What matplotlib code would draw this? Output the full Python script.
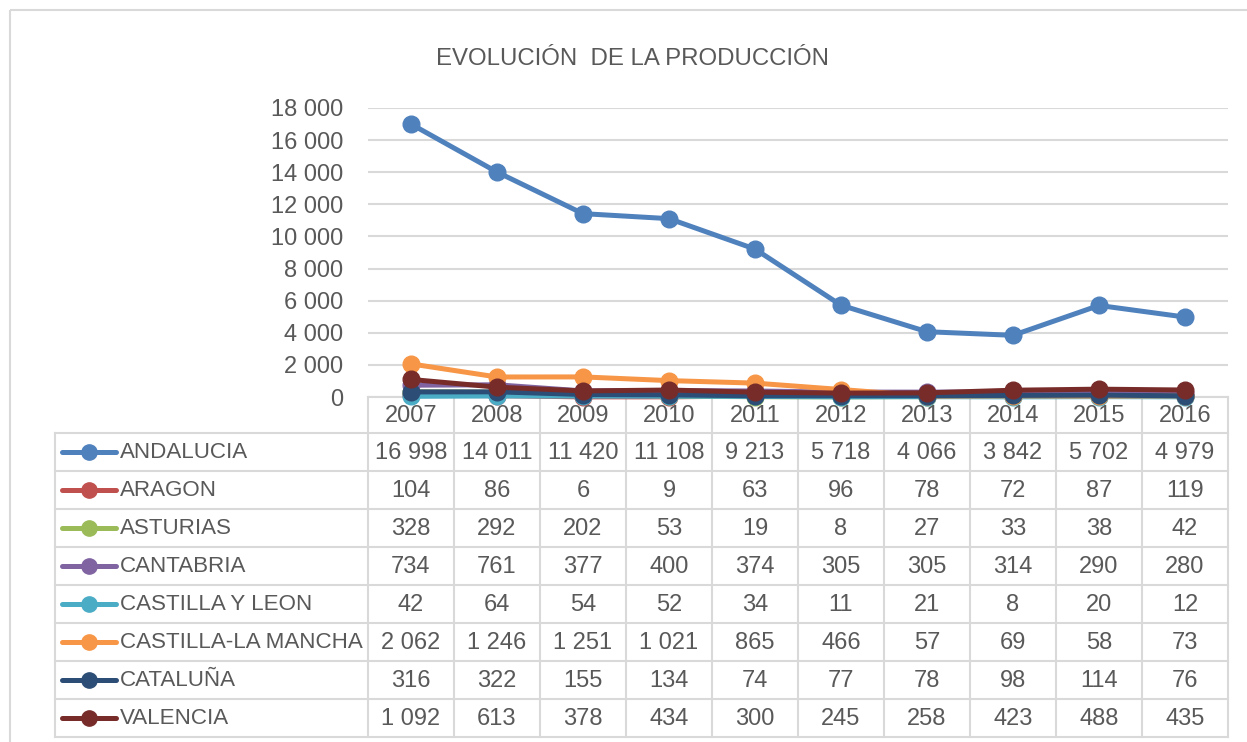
import matplotlib.pyplot as plt
from matplotlib.patches import Rectangle

years = ['2007', '2008', '2009', '2010', '2011', '2012', '2013', '2014', '2015', '2016']
regions = ['ANDALUCIA', 'ARAGON', 'ASTURIAS', 'CANTABRIA', 'CASTILLA Y LEON',
           'CASTILLA-LA MANCHA', 'CATALUÑA', 'VALENCIA']
andalucia = [16998, 14011, 11420, 11108, 9213, 5718, 4066, 3842, 5702, 4979]
aragon = [104, 86, 6, 9, 63, 96, 78, 72, 87, 119]
asturias = [328, 292, 202, 53, 19, 8, 27, 33, 38, 42]
cantabria = [734, 761, 377, 400, 374, 305, 305, 314, 290, 280]
castilla_leon = [42, 64, 54, 52, 34, 11, 21, 8, 20, 12]
castilla_mancha = [2062, 1246, 1251, 1021, 865, 466, 57, 69, 58, 73]
cataluna = [316, 322, 155, 134, 74, 77, 78, 98, 114, 76]
valencia = [1092, 613, 378, 434, 300, 245, 258, 423, 488, 435]
series = [andalucia, aragon, asturias, cantabria, castilla_leon,
          castilla_mancha, cataluna, valencia]
colors = ['#4F81BD', '#C0504D', '#9BBB59', '#8064A2', '#4BACC6',
          '#F79646', '#2C4D75', '#772C2A']

W, H = 1247, 742
txt = '#595959'
grid = '#d9d9d9'
font = 'Liberation Sans'


def fmt(v):
    return f'{v:,}'.replace(',', ' ')


fig = plt.figure(figsize=(W / 100, H / 100), dpi=100)

# background layer in pixel coordinates (border, title, data table)
bg = fig.add_axes([0, 0, 1, 1], zorder=0)
bg.set_xlim(0, W)
bg.set_ylim(H, 0)
bg.axis('off')
bg.add_patch(Rectangle((10, 10), W, H, fill=False, edgecolor=grid, linewidth=1.5))
bg.text(633, 59, 'EVOLUCIÓN  DE LA PRODUCCIÓN', ha='center', va='center',
        fontsize=17.3, color=txt, family=font)

# plot area
x0, x1 = 368, 1228
ytop, ybot = 108, 397
ax = fig.add_axes([x0 / W, (H - ybot) / H, (x1 - x0) / W, (ybot - ytop) / H], zorder=2)
ax.patch.set_alpha(0)
xs = list(range(len(years)))
for vals, c in zip(series, colors):
    ax.plot(xs, vals, color=c, linewidth=3.6, marker='o', markersize=12,
            clip_on=False, solid_capstyle='round')
ax.set_xlim(-0.5, len(years) - 0.5)
ax.set_ylim(0, 18000)
ax.set_yticks(range(0, 18001, 2000))
ax.set_yticklabels([fmt(v) for v in range(0, 18001, 2000)], fontsize=17,
                   color=txt, family=font)
ax.set_xticks([])
ax.tick_params(axis='y', length=0, pad=18)
ax.yaxis.grid(True, color=grid, linewidth=1.5)
ax.set_axisbelow(True)
for s in ax.spines.values():
    s.set_visible(False)

# data table
colw = (x1 - x0) / len(years)
row_top, row_h = 433, 38
table_bot = row_top + row_h * len(regions)
lx = 55
# horizontal lines
bg.plot([x0, x1], [ybot, ybot], color=grid, linewidth=1.5)
for i in range(len(regions) + 1):
    y = row_top + i * row_h
    bg.plot([lx, x1], [y, y], color=grid, linewidth=1.5)
# vertical lines
bg.plot([lx, lx], [row_top, table_bot], color=grid, linewidth=1.5)
for j in range(len(years) + 1):
    x = x0 + j * colw
    bg.plot([x, x], [ybot, table_bot], color=grid, linewidth=1.5)

for j, yr in enumerate(years):
    bg.text(x0 + (j + 0.5) * colw, (ybot + row_top) / 2 + 1, yr, ha='center',
            va='center', fontsize=17, color=txt, family=font)

for i, (name, vals, c) in enumerate(zip(regions, series, colors)):
    yc = row_top + (i + 0.5) * row_h
    bg.plot([62, 116], [yc, yc], color=c, linewidth=3.6, solid_capstyle='round')
    bg.plot([89], [yc], marker='o', markersize=11, color=c)
    bg.text(120, yc + 1, name, ha='left', va='center', fontsize=16.1,
            color=txt, family=font)
    for j, v in enumerate(vals):
        bg.text(x0 + (j + 0.5) * colw, yc + 1, fmt(v), ha='center', va='center',
                fontsize=17, color=txt, family=font)

fig.savefig('out.png', dpi=100)
